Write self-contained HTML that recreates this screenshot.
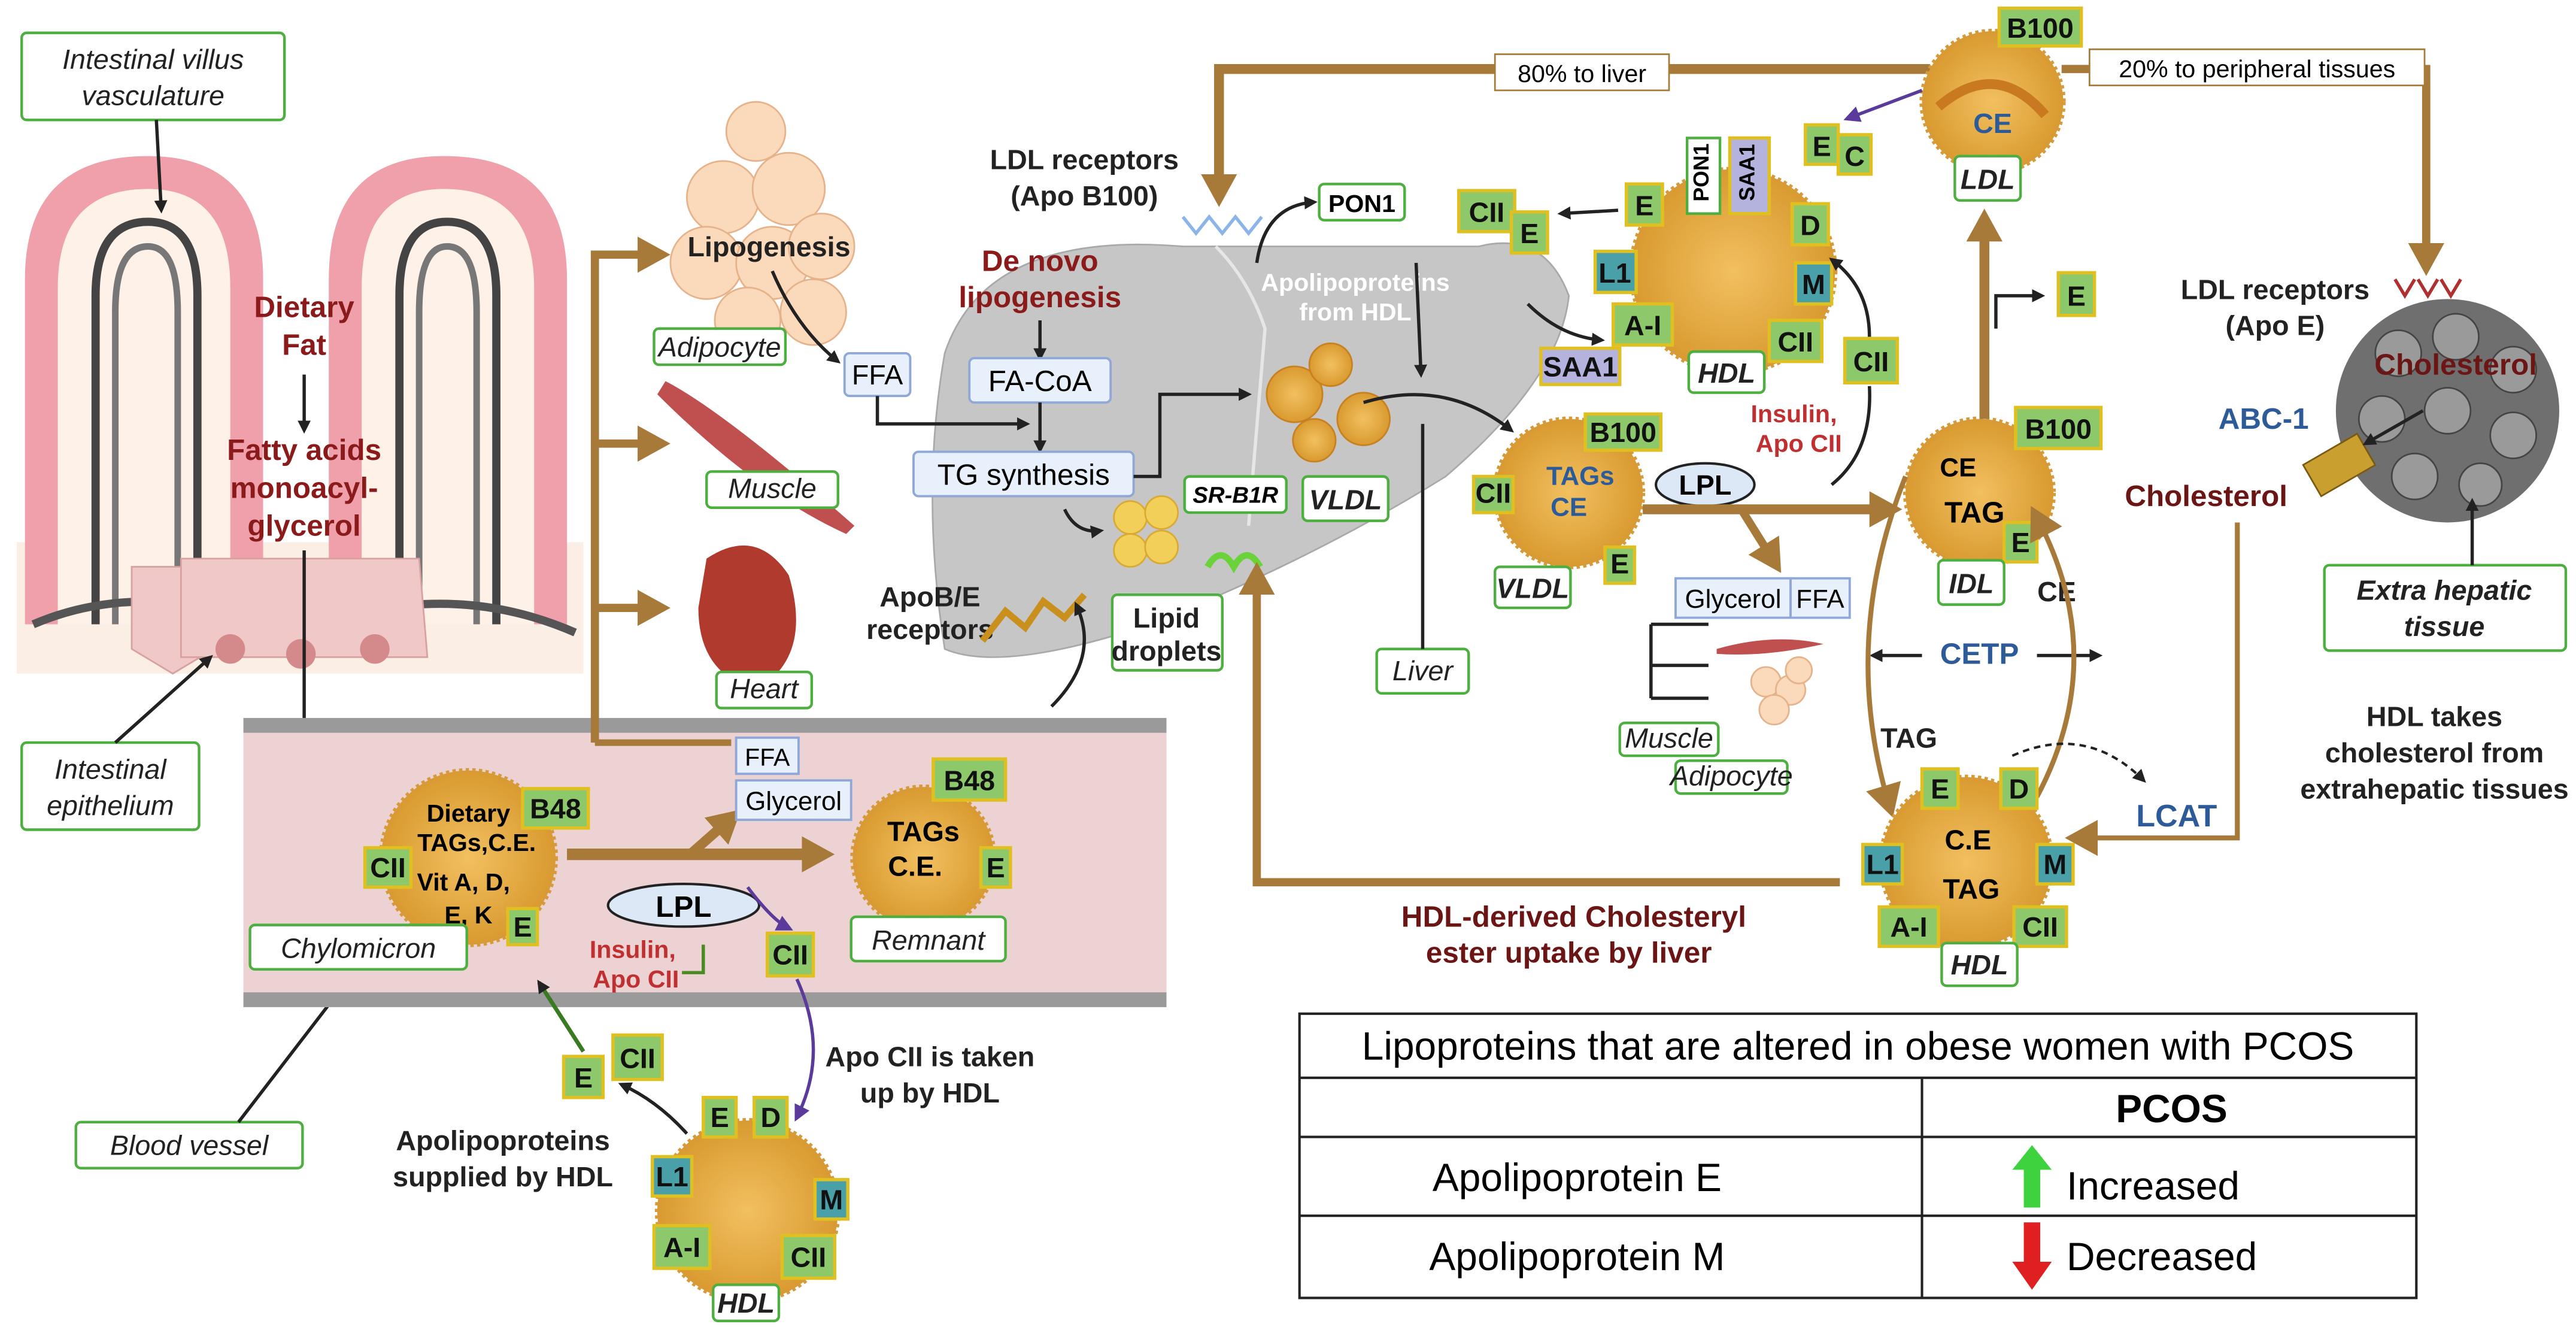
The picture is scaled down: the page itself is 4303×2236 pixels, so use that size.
<!DOCTYPE html>
<html><head><meta charset="utf-8"><style>
html,body{margin:0;padding:0;background:#fff;}
svg{display:block;font-family:"Liberation Sans",sans-serif;}
.lb{fill:#fff;stroke:#4caf3f;stroke-width:1.6;}
.bl{fill:#e8f0fb;stroke:#8fa8d8;stroke-width:1.4;}
.it{font-style:italic;font-size:17px;fill:#222;text-anchor:middle;}
.bt{font-weight:bold;font-size:17px;fill:#222;text-anchor:middle;}
.rd{font-weight:bold;font-size:18px;fill:#8b1a1a;text-anchor:middle;}
.ap{fill:#8dc86a;stroke:#e0c020;stroke-width:2;}
.apb{fill:#4aa0a8;stroke:#e0c020;stroke-width:2;}
.at{font-weight:bold;font-size:17px;fill:#111;text-anchor:middle;}
.br{stroke:#a87a3a;fill:none;}
.k{stroke:#222;fill:none;stroke-width:2;}
</style></head><body>
<svg width="4303" height="2236" viewBox="0 0 1568 815" xmlns="http://www.w3.org/2000/svg">
<defs>
<marker id="ak" markerWidth="8" markerHeight="8" refX="6" refY="4" orient="auto" markerUnits="userSpaceOnUse"><path d="M0,0 L8,4 L0,8z" fill="#222"/></marker>
<marker id="ab" markerWidth="22" markerHeight="22" refX="12" refY="11" orient="auto" markerUnits="userSpaceOnUse"><path d="M0,0 L20,11 L0,22z" fill="#a87a3a"/></marker>
<marker id="ap" markerWidth="10" markerHeight="10" refX="7" refY="5" orient="auto" markerUnits="userSpaceOnUse"><path d="M0,0 L10,5 L0,10z" fill="#5a3a9a"/></marker>
<radialGradient id="og"><stop offset="0" stop-color="#f2c060"/><stop offset="1" stop-color="#d99a30"/></radialGradient>
</defs>

<!-- villi -->
<rect x="10" y="330" width="345" height="80" fill="#fbeee4"/>
<path d="M15,380 L15,170 Q15,95 90,95 Q160,95 160,170 L160,380 Z" fill="#f0a0aa"/>
<path d="M35,380 L35,175 Q35,115 90,115 Q140,115 140,175 L140,380 Z" fill="#fdf1e8"/>
<path d="M200,380 L200,170 Q200,95 270,95 Q345,95 345,170 L345,380 Z" fill="#f0a0aa"/>
<path d="M220,380 L220,175 Q220,115 270,115 Q325,115 325,175 L325,380 Z" fill="#fdf1e8"/>
<path d="M58,380 L58,180 Q58,135 90,135 Q120,135 120,180 L120,380" stroke="#444" stroke-width="5" fill="none"/>
<path d="M70,380 L70,190 Q70,150 90,150 Q108,150 108,190 L108,380" stroke="#777" stroke-width="4" fill="none"/>
<path d="M243,380 L243,180 Q243,135 272,135 Q302,135 302,180 L302,380" stroke="#444" stroke-width="5" fill="none"/>
<path d="M255,380 L255,190 Q255,150 272,150 Q290,150 290,190 L290,380" stroke="#777" stroke-width="4" fill="none"/>
<path d="M20,380 Q90,350 180,385 Q270,350 350,385" stroke="#555" stroke-width="5" fill="none"/>
<path d="M80,345 L130,345 L130,395 L105,410 L80,395Z" fill="#f1c8c8" stroke="#d9a0a0"/>
<path d="M110,340 L255,340 L260,400 L110,400Z" fill="#f1c8c8" stroke="#d9a0a0"/>
<circle cx="140" cy="395" r="9" fill="#d48a8a"/><circle cx="183" cy="398" r="9" fill="#d48a8a"/><circle cx="228" cy="395" r="9" fill="#d48a8a"/>
<text class="rd" x="185" y="193">Dietary</text><text class="rd" x="185" y="216">Fat</text>
<line class="k" x1="185" y1="228" x2="185" y2="262" marker-end="url(#ak)"/>
<text class="rd" x="185" y="280">Fatty acids</text><text class="rd" x="185" y="303">monoacyl-</text><text class="rd" x="185" y="326">glycerol</text>
<line class="k" x1="185" y1="335" x2="185" y2="500" marker-end="url(#ak)"/>
<path class="k" d="M185,470 Q200,500 238,505" marker-end="url(#ak)"/>

<rect class="lb" x="13" y="20" width="160" height="53" rx="3"/>
<text class="it" x="93" y="42">Intestinal villus</text><text class="it" x="93" y="64">vasculature</text>
<line class="k" stroke-width="1" x1="95" y1="73" x2="98" y2="128" marker-end="url(#ak)"/>
<rect class="lb" x="13" y="452" width="108" height="53" rx="3"/>
<text class="it" x="67" y="474">Intestinal</text><text class="it" x="67" y="496">epithelium</text>
<line class="k" stroke-width="1" x1="70" y1="452" x2="128" y2="400" marker-end="url(#ak)"/>
<rect class="lb" x="46" y="683" width="138" height="28" rx="3"/>
<text class="it" x="115" y="703">Blood vessel</text>
<line class="k" stroke-width="1" x1="145" y1="683" x2="205" y2="605" marker-end="url(#ak)"/>

<!-- blood vessel -->
<rect x="148" y="437" width="562" height="176" fill="#ecd2d2"/>
<rect x="148" y="437" width="562" height="9" fill="#9a9a9a"/>
<rect x="148" y="604" width="562" height="9" fill="#9a9a9a"/>

<!-- brown arrows left -->
<path class="br" stroke-width="5" d="M362,452 L362,155 L400,155" marker-end="url(#ab)"/>
<path class="br" stroke-width="5" d="M362,270 L400,270" marker-end="url(#ab)"/>
<path class="br" stroke-width="5" d="M362,370 L400,370" marker-end="url(#ab)"/>
<path class="br" stroke-width="4" d="M362,452 L445,452"/>
<path class="br" stroke-width="7" d="M345,520 L500,520" marker-end="url(#ab)"/>
<path class="br" stroke-width="6" d="M420,520 L445,498" marker-end="url(#ab)"/>

<!-- adipocyte/muscle/heart -->
<g fill="#fbd9bb" stroke="#e6b28a"><circle cx="440" cy="120" r="22"/><circle cx="480" cy="115" r="22"/><circle cx="430" cy="160" r="22"/><circle cx="470" cy="160" r="22"/><circle cx="500" cy="150" r="20"/><circle cx="455" cy="195" r="20"/><circle cx="495" cy="190" r="20"/><circle cx="460" cy="80" r="18"/></g>
<text class="bt" x="468" y="156" font-size="18">Lipogenesis</text>
<rect class="lb" x="398" y="200" width="80" height="22" rx="3"/><text class="it" x="438" y="217" font-size="15">Adipocyte</text>
<path d="M405,232 Q440,250 520,320 L515,325 Q460,300 400,240Z" fill="#c05050"/>
<rect class="lb" x="430" y="287" width="80" height="22" rx="3"/><text class="it" x="470" y="303" font-size="15">Muscle</text>
<path d="M430,340 Q460,320 480,350 Q495,400 460,420 Q425,410 425,370Z" fill="#b03a2e"/>
<rect class="lb" x="436" y="409" width="58" height="22" rx="3"/><text class="it" x="465" y="425" font-size="15">Heart</text>
<path class="k" d="M470,165 Q485,200 510,220" marker-end="url(#ak)"/>
<rect class="bl" x="514" y="215" width="40" height="26" rx="3"/><text x="534" y="234" font-size="17" text-anchor="middle">FFA</text>

<!-- liver -->
<path d="M575,215 Q600,140 720,150 L900,150 Q940,140 955,180 Q950,230 880,290 Q800,340 700,380 Q610,410 575,395 Q560,300 575,215Z" fill="#c6c6c6" stroke="#a9a9a9"/>
<path d="M740,150 Q760,170 770,200 L760,320" stroke="#e6e6e6" stroke-width="2" fill="none"/>
<text class="rd" x="633" y="165" fill="#8b1a1a">De novo</text><text class="rd" x="633" y="187">lipogenesis</text>
<line class="k" stroke-width="1.5" x1="633" y1="195" x2="633" y2="218" marker-end="url(#ak)"/>
<rect class="bl" x="590" y="218" width="86" height="27" rx="3"/><text x="633" y="238" font-size="18" text-anchor="middle">FA-CoA</text>
<line class="k" stroke-width="1.5" x1="633" y1="245" x2="633" y2="274" marker-end="url(#ak)"/>
<path class="k" stroke-width="1.5" d="M534,241 L534,258 L625,258" marker-end="url(#ak)"/>
<rect class="bl" x="556" y="275" width="134" height="27" rx="3"/><text x="623" y="295" font-size="18" text-anchor="middle">TG synthesis</text>
<path class="k" stroke-width="1.5" d="M690,290 L706,290 L706,240 L760,240" marker-end="url(#ak)"/>
<g fill="#f2cf58" stroke="#d9aa30"><circle cx="688" cy="315" r="10"/><circle cx="707" cy="312" r="10"/><circle cx="688" cy="335" r="10"/><circle cx="707" cy="333" r="10"/></g>
<path class="k" stroke-width="1.2" d="M648,310 Q655,325 670,323" marker-end="url(#ak)"/>
<rect class="lb" x="677" y="362" width="67" height="46" rx="3"/><text class="bt" x="710" y="382">Lipid</text><text class="bt" x="710" y="402">droplets</text>
<text class="bt" x="566" y="369">ApoB/E</text><text class="bt" x="566" y="389">receptors</text>
<path d="M598,390 L612,372 L624,382 L635,366 L648,376 L660,362" stroke="#c9901d" stroke-width="4" fill="none"/>
<path class="k" stroke-width="3" d="M640,430 Q670,400 655,368" marker-end="url(#ak)"/>
<rect class="lb" x="721" y="290" width="62" height="22" rx="3"/><text x="752" y="306" font-size="14" font-weight="bold" font-style="italic" text-anchor="middle">SR-B1R</text>
<path d="M735,345 q8,-14 16,0 q8,-14 16,0" stroke="#6ad33a" stroke-width="4" fill="none"/>
<text class="bt" x="660" y="103" font-size="18">LDL receptors</text><text class="bt" x="660" y="125" font-size="18">(Apo B100)</text>
<path d="M720,132 l8,10 l8,-10 l8,10 l8,-10 l8,10 l8,-10" stroke="#8bb5e8" stroke-width="2" fill="none"/>
<path class="k" stroke-width="1.5" d="M765,160 Q770,125 800,123" marker-end="url(#ak)"/>
<rect class="lb" x="803" y="112" width="52" height="22" rx="3"/><text x="829" y="129" font-size="15" font-weight="bold" text-anchor="middle">PON1</text>
<text x="825" y="177" font-size="15" font-weight="bold" fill="#fff" text-anchor="middle">Apolipoproteins</text>
<text x="825" y="195" font-size="15" font-weight="bold" fill="#fff" text-anchor="middle">from HDL</text>
<g fill="url(#og)" stroke="#c88020"><circle cx="788" cy="240" r="17"/><circle cx="810" cy="222" r="13"/><circle cx="830" cy="255" r="16"/><circle cx="800" cy="268" r="13"/></g>
<rect class="lb" x="793" y="290" width="52" height="27" rx="3"/><text class="bt" x="819" y="310" font-style="italic" font-size="18">VLDL</text>
<rect class="lb" x="838" y="395" width="56" height="27" rx="3"/><text class="it" x="866" y="414">Liver</text>
<line class="k" stroke-width="1.2" x1="866" y1="395" x2="866" y2="258"/>
<path class="k" stroke-width="3" d="M830,245 Q880,230 920,262" marker-end="url(#ak)"/>
<path class="k" stroke-width="3" d="M862,160 L865,228" marker-end="url(#ak)"/>
<path class="k" stroke-width="1.5" d="M930,185 Q950,205 975,207" marker-end="url(#ak)"/>

<!-- top brown loop -->
<path class="br" stroke-width="6" d="M1175,42 L742,42 L742,118" marker-end="url(#ab)"/>
<path class="br" stroke-width="5" d="M1255,42 L1477,42 L1477,160" marker-end="url(#ab)"/>
<rect x="910" y="33" width="106" height="22" fill="#fff" stroke="#a87a3a"/><text x="963" y="50" font-size="15" text-anchor="middle">80% to liver</text>
<rect x="1272" y="30" width="204" height="22" fill="#fff" stroke="#a87a3a"/><text x="1374" y="47" font-size="15" text-anchor="middle">20% to peripheral tissues</text>

<!-- LDL -->
<circle cx="1213" cy="62" r="43" fill="url(#og)" stroke="#d69a3a" stroke-dasharray="2 2" stroke-width="3"/>
<path d="M1180,65 Q1215,35 1245,70" stroke="#c97a20" stroke-width="6" fill="none"/>
<text x="1213" y="81" font-size="17" font-weight="bold" fill="#2d5b9a" text-anchor="middle">CE</text>
<rect class="ap" x="1217" y="5" width="50" height="23"/><text class="at" x="1242" y="23">B100</text>
<rect class="lb" x="1190" y="95" width="40" height="27" rx="3"/><text class="bt" x="1210" y="115" font-style="italic" font-size="18">LDL</text>
<path stroke="#5a3a9a" stroke-width="2" d="M1170,55 L1125,72" marker-end="url(#ap)"/>
<rect class="ap" x="1099" y="76" width="20" height="24"/><text class="at" x="1109" y="95">E</text>
<rect class="ap" x="1119" y="82" width="20" height="24"/><text class="at" x="1129" y="101">C</text>

<!-- HDL top -->
<circle cx="1055" cy="165" r="62" fill="url(#og)" stroke="#d69a3a" stroke-dasharray="2 2" stroke-width="3"/>
<rect class="lb" x="1027" y="84" width="20" height="46"/><text x="1042" y="107" font-size="13" font-weight="bold" transform="rotate(-90 1040 107)" text-anchor="middle">PON1</text>
<rect x="1053" y="84" width="24" height="46" fill="#b3b3dd" stroke="#e0c020" stroke-width="2"/><text x="1070" y="107" font-size="13" font-weight="bold" transform="rotate(-90 1068 107)" text-anchor="middle">SAA1</text>
<rect class="ap" x="990" y="112" width="22" height="25"/><text class="at" x="1001" y="131">E</text>
<rect class="ap" x="1091" y="124" width="22" height="25"/><text class="at" x="1102" y="143">D</text>
<rect class="apb" x="1093" y="160" width="22" height="25"/><text class="at" x="1104" y="179">M</text>
<rect class="apb" x="971" y="153" width="25" height="25"/><text class="at" x="983" y="172">L1</text>
<rect class="ap" x="982" y="185" width="36" height="25"/><text class="at" x="1000" y="204">A-I</text>
<rect class="ap" x="1077" y="195" width="32" height="25"/><text class="at" x="1093" y="214">CII</text>
<rect class="lb" x="1028" y="214" width="46" height="25" rx="3"/><text class="bt" x="1051" y="233" font-style="italic" font-size="18">HDL</text>
<rect x="938" y="212" width="48" height="22" fill="#b3b3dd" stroke="#e0c020" stroke-width="2"/><text class="at" x="962" y="229" font-size="15">SAA1</text>
<rect class="ap" x="888" y="116" width="34" height="25"/><text class="at" x="905" y="135">CII</text>
<rect class="ap" x="920" y="129" width="22" height="25"/><text class="at" x="931" y="148">E</text>
<path class="k" stroke-width="1.3" d="M985,128 L950,130" marker-end="url(#ak)"/>
<rect class="ap" x="1123" y="206" width="32" height="27"/><text class="at" x="1139" y="226">CII</text>
<path class="k" stroke-width="1.2" d="M1138,205 Q1138,175 1115,158" marker-end="url(#ak)"/>
<path class="k" stroke-width="1.2" d="M1115,295 Q1140,275 1138,235"/>
<text x="1092" y="257" font-size="15" font-weight="bold" fill="#c03030" text-anchor="middle">Insulin,</text>
<text x="1095" y="275" font-size="15" font-weight="bold" fill="#c03030" text-anchor="middle">Apo CII</text>
<ellipse cx="1038" cy="295" rx="30" ry="13" fill="#dde8f7" stroke="#222" stroke-width="1.5"/><text x="1038" y="301" font-size="17" font-weight="bold" text-anchor="middle">LPL</text>

<!-- VLDL right -->
<circle cx="955" cy="300" r="45" fill="url(#og)" stroke="#d69a3a" stroke-dasharray="2 2" stroke-width="3"/>
<text x="962" y="295" font-size="16" font-weight="bold" fill="#2d5b9a" text-anchor="middle">TAGs</text>
<text x="955" y="314" font-size="16" font-weight="bold" fill="#2d5b9a" text-anchor="middle">CE</text>
<rect class="ap" x="965" y="252" width="46" height="22"/><text class="at" x="988" y="269" font-size="15">B100</text>
<rect class="ap" x="897" y="290" width="24" height="22"/><text class="at" x="909" y="306" font-size="14">CII</text>
<rect class="ap" x="977" y="333" width="18" height="22"/><text class="at" x="986" y="349" font-size="14">E</text>
<rect class="lb" x="910" y="345" width="46" height="25" rx="3"/><text class="bt" x="933" y="364" font-style="italic" font-size="17">VLDL</text>
<path class="br" stroke-width="6" d="M1000,310 L1150,310" marker-end="url(#ab)"/>
<path class="br" stroke-width="5" d="M1060,310 L1080,342" marker-end="url(#ab)"/>
<rect class="bl" x="1020" y="352" width="70" height="24"/><text x="1055" y="370" font-size="16" text-anchor="middle">Glycerol</text>
<rect class="bl" x="1090" y="352" width="36" height="24"/><text x="1108" y="370" font-size="16" text-anchor="middle">FFA</text>
<path class="k" stroke-width="1.3" d="M1005,380 L1005,425 M1005,380 L1040,380 M1005,405 L1040,405 M1005,425 L1040,425"/>
<path d="M1045,395 Q1080,385 1110,392 Q1075,400 1045,398Z" fill="#c05050"/>
<g fill="#fbd9bb" stroke="#e6b28a"><circle cx="1075" cy="415" r="9"/><circle cx="1090" cy="420" r="9"/><circle cx="1080" cy="432" r="9"/><circle cx="1095" cy="408" r="8"/></g>
<rect class="lb" x="986" y="440" width="60" height="20" rx="3"/><text class="it" x="1016" y="455" font-size="13">Muscle</text>
<rect class="lb" x="1020" y="463" width="68" height="20" rx="3"/><text class="it" x="1054" y="478" font-size="13">Adipocyte</text>

<!-- IDL -->
<circle cx="1205" cy="300" r="45" fill="url(#og)" stroke="#d69a3a" stroke-dasharray="2 2" stroke-width="3"/>
<text x="1192" y="290" font-size="16" font-weight="bold" text-anchor="middle">CE</text>
<text x="1202" y="318" font-size="18" font-weight="bold" text-anchor="middle">TAG</text>
<rect class="ap" x="1227" y="248" width="52" height="25"/><text class="at" x="1253" y="267">B100</text>
<rect class="ap" x="1220" y="318" width="20" height="24"/><text class="at" x="1230" y="336">E</text>
<rect class="lb" x="1180" y="341" width="40" height="27" rx="3"/><text class="bt" x="1200" y="361" font-style="italic" font-size="18">IDL</text>
<path class="br" stroke-width="6" d="M1208,255 L1208,135" marker-end="url(#ab)"/>
<path class="k" stroke-width="2" d="M1215,200 L1215,180 L1243,180" marker-end="url(#ak)"/>
<rect class="ap" x="1253" y="166" width="22" height="26"/><text class="at" x="1264" y="186">E</text>
<text class="bt" x="1252" y="366">CE</text>
<text x="1205" y="404" font-size="18" font-weight="bold" fill="#2d5b9a" text-anchor="middle">CETP</text>
<path class="k" stroke-width="1.5" d="M1170,399 L1140,399" marker-end="url(#ak)"/><path class="k" stroke-width="1.5" d="M1240,399 L1278,399" marker-end="url(#ak)"/>
<path class="br" stroke-width="3" d="M1160,290 Q1120,390 1150,490" marker-end="url(#ab)"/>
<path class="br" stroke-width="3" d="M1240,485 Q1285,400 1240,315" marker-end="url(#ab)"/>
<text class="bt" x="1162" y="455">TAG</text>
<path d="M1225,460 Q1270,440 1305,475" stroke="#222" stroke-dasharray="4 3" fill="none" stroke-width="1.5" marker-end="url(#ak)"/>
<text x="1325" y="503" font-size="19" font-weight="bold" fill="#2d5b9a" text-anchor="middle">LCAT</text>

<!-- HDL right -->
<circle cx="1197" cy="525" r="52" fill="url(#og)" stroke="#d69a3a" stroke-dasharray="2 2" stroke-width="3"/>
<text x="1198" y="517" font-size="17" font-weight="bold" text-anchor="middle">C.E</text>
<text x="1200" y="547" font-size="17" font-weight="bold" text-anchor="middle">TAG</text>
<rect class="ap" x="1170" y="468" width="22" height="24"/><text class="at" x="1181" y="486">E</text>
<rect class="ap" x="1218" y="468" width="22" height="24"/><text class="at" x="1229" y="486">D</text>
<rect class="apb" x="1240" y="514" width="22" height="24"/><text class="at" x="1251" y="532">M</text>
<rect class="apb" x="1134" y="514" width="24" height="24"/><text class="at" x="1146" y="532">L1</text>
<rect class="ap" x="1144" y="552" width="36" height="24"/><text class="at" x="1162" y="570">A-I</text>
<rect class="ap" x="1226" y="552" width="32" height="24"/><text class="at" x="1242" y="570">CII</text>
<rect class="lb" x="1182" y="574" width="46" height="26" rx="3"/><text class="bt" x="1205" y="593" font-style="italic" font-size="18">HDL</text>
<path class="br" stroke-width="5" d="M1120,537 L765,537 L765,350" marker-end="url(#ab)"/>
<text x="958" y="564" font-size="18" font-weight="bold" fill="#6b1515" text-anchor="middle">HDL-derived Cholesteryl</text>
<text x="955" y="586" font-size="18" font-weight="bold" fill="#6b1515" text-anchor="middle">ester uptake by liver</text>

<!-- extrahepatic -->
<circle cx="1490" cy="250" r="68" fill="#6f6f6f"/>
<g fill="#9a9a9a" stroke="#444"><circle cx="1460" cy="215" r="14"/><circle cx="1495" cy="205" r="14"/><circle cx="1530" cy="225" r="14"/><circle cx="1450" cy="255" r="14"/><circle cx="1490" cy="250" r="14"/><circle cx="1530" cy="265" r="14"/><circle cx="1470" cy="290" r="14"/><circle cx="1510" cy="295" r="13"/></g>
<text x="1495" y="228" font-size="18" font-weight="bold" fill="#6b1515" text-anchor="middle">Cholesterol</text>
<text class="bt" x="1385" y="182">LDL receptors</text><text class="bt" x="1385" y="204">(Apo E)</text>
<path d="M1458,170 l6,10 l6,-10 M1472,170 l6,10 l6,-10 M1486,170 l6,10 l6,-10" stroke="#b03030" stroke-width="2" fill="none"/>
<text x="1378" y="261" font-size="18" font-weight="bold" fill="#2d5b9a" text-anchor="middle">ABC-1</text>
<rect x="1405" y="272" width="38" height="22" fill="#c9a030" stroke="#7a5a10" transform="rotate(-30 1424 283)"/>
<path class="k" stroke-width="1.5" d="M1475,250 L1440,270" marker-end="url(#ak)"/>
<text x="1343" y="308" font-size="18" font-weight="bold" fill="#6b1515" text-anchor="middle">Cholesterol</text>
<path class="br" stroke-width="3" d="M1362,318 L1362,510 L1265,510" marker-end="url(#ab)"/>
<rect class="lb" x="1415" y="344" width="147" height="52" rx="3"/><text class="bt" x="1488" y="365" font-style="italic" font-size="18">Extra hepatic</text><text class="bt" x="1488" y="387" font-style="italic" font-size="18">tissue</text>
<path class="k" stroke-width="1" d="M1505,344 L1505,305" marker-end="url(#ak)"/>
<text class="bt" x="1482" y="442">HDL takes</text><text class="bt" x="1482" y="464">cholesterol from</text><text class="bt" x="1482" y="486">extrahepatic tissues</text>

<!-- chylomicron -->
<circle cx="285" cy="522" r="53" fill="url(#og)" stroke="#d69a3a" stroke-dasharray="2 2" stroke-width="3"/>
<text x="285" y="500" font-size="15" font-weight="bold" text-anchor="middle">Dietary</text>
<text x="290" y="518" font-size="15" font-weight="bold" text-anchor="middle">TAGs,C.E.</text>
<text x="282" y="542" font-size="15" font-weight="bold" text-anchor="middle">Vit A, D,</text>
<text x="285" y="562" font-size="15" font-weight="bold" text-anchor="middle">E, K</text>
<rect class="ap" x="318" y="480" width="40" height="24"/><text class="at" x="338" y="498">B48</text>
<rect class="ap" x="222" y="516" width="28" height="24"/><text class="at" x="236" y="534">CII</text>
<rect class="ap" x="309" y="553" width="18" height="22"/><text class="at" x="318" y="570" font-size="15">E</text>
<rect class="lb" x="152" y="563" width="132" height="27" rx="3"/><text class="it" x="218" y="583" font-size="18">Chylomicron</text>
<rect class="bl" x="448" y="449" width="38" height="22"/><text x="467" y="466" font-size="15" text-anchor="middle">FFA</text>
<rect class="bl" x="448" y="475" width="70" height="24"/><text x="483" y="493" font-size="16" text-anchor="middle">Glycerol</text>
<ellipse cx="416" cy="551" rx="46" ry="13" fill="#dde8f7" stroke="#222" stroke-width="1.5"/><text x="416" y="558" font-size="18" font-weight="bold" text-anchor="middle">LPL</text>
<text x="385" y="583" font-size="15" font-weight="bold" fill="#c03030" text-anchor="middle">Insulin,</text>
<text x="387" y="601" font-size="15" font-weight="bold" fill="#c03030" text-anchor="middle">Apo CII</text>
<path d="M415,592 L428,592 L428,575" stroke="#4a8a20" stroke-width="2" fill="none"/>
<path stroke="#5a3a9a" stroke-width="2" fill="none" d="M455,540 Q470,560 480,565" marker-end="url(#ap)"/>
<rect class="ap" x="467" y="568" width="28" height="26"/><text class="at" x="481" y="587">CII</text>
<path stroke="#5a3a9a" stroke-width="2" fill="none" d="M485,596 Q505,640 485,680" marker-end="url(#ap)"/>
<text class="bt" x="566" y="649">Apo CII is taken</text><text class="bt" x="566" y="671">up by HDL</text>

<!-- remnant -->
<circle cx="562" cy="522" r="43" fill="url(#og)" stroke="#d69a3a" stroke-dasharray="2 2" stroke-width="3"/>
<text x="562" y="512" font-size="17" font-weight="bold" text-anchor="middle">TAGs</text>
<text x="557" y="533" font-size="17" font-weight="bold" text-anchor="middle">C.E.</text>
<rect class="ap" x="568" y="462" width="44" height="25"/><text class="at" x="590" y="481">B48</text>
<rect class="ap" x="597" y="516" width="18" height="24"/><text class="at" x="606" y="534">E</text>
<rect class="lb" x="518" y="558" width="94" height="27" rx="3"/><text class="it" x="565" y="578" font-size="18">Remnant</text>

<!-- HDL bottom -->
<circle cx="455" cy="737" r="55" fill="url(#og)" stroke="#d69a3a" stroke-dasharray="2 2" stroke-width="3"/>
<rect class="ap" x="428" y="668" width="20" height="24"/><text class="at" x="438" y="686">E</text>
<rect class="ap" x="459" y="668" width="20" height="24"/><text class="at" x="469" y="686">D</text>
<rect class="apb" x="496" y="718" width="20" height="24"/><text class="at" x="506" y="736">M</text>
<rect class="apb" x="397" y="704" width="24" height="24"/><text class="at" x="409" y="722">L1</text>
<rect class="ap" x="398" y="746" width="34" height="26"/><text class="at" x="415" y="765">A-I</text>
<rect class="ap" x="476" y="752" width="32" height="26"/><text class="at" x="492" y="771">CII</text>
<rect class="lb" x="434" y="782" width="40" height="22" rx="3"/><text class="bt" x="454" y="799" font-style="italic" font-size="16">HDL</text>
<path class="k" stroke-width="1.3" d="M418,690 Q400,670 378,660" marker-end="url(#ak)"/>
<rect class="ap" x="343" y="643" width="24" height="25"/><text class="at" x="355" y="662">E</text>
<rect class="ap" x="373" y="630" width="30" height="27"/><text class="at" x="388" y="650">CII</text>
<path stroke="#3a7a20" stroke-width="2.5" fill="none" d="M355,640 L328,598" marker-end="url(#ak)"/>
<text class="bt" x="306" y="700">Apolipoproteins</text><text class="bt" x="306" y="722">supplied by HDL</text>

<!-- table -->
<rect x="791" y="617" width="680" height="173" fill="#fff" stroke="#222" stroke-width="1.5"/>
<line x1="791" y1="656" x2="1471" y2="656" stroke="#222" stroke-width="1.5"/>
<line x1="791" y1="692" x2="1471" y2="692" stroke="#222" stroke-width="1.5"/>
<line x1="791" y1="740" x2="1471" y2="740" stroke="#222" stroke-width="1.5"/>
<line x1="1170" y1="656" x2="1170" y2="790" stroke="#222" stroke-width="1.5"/>
<text x="1131" y="645" font-size="24" text-anchor="middle">Lipoproteins that are altered in obese women with PCOS</text>
<text x="1322" y="683" font-size="24" font-weight="bold" text-anchor="middle">PCOS</text>
<text x="960" y="725" font-size="24" text-anchor="middle">Apolipoprotein E</text>
<text x="960" y="773" font-size="24" text-anchor="middle">Apolipoprotein M</text>
<path d="M1237,697 L1249,712 L1242,712 L1242,735 L1232,735 L1232,712 L1225,712Z" fill="#3fd23f"/>
<text x="1258" y="730" font-size="24">Increased</text>
<path d="M1237,785 L1249,768 L1242,768 L1242,744 L1232,744 L1232,768 L1225,768Z" fill="#e02020"/>
<text x="1258" y="773" font-size="24">Decreased</text>
</svg>
</body></html>
